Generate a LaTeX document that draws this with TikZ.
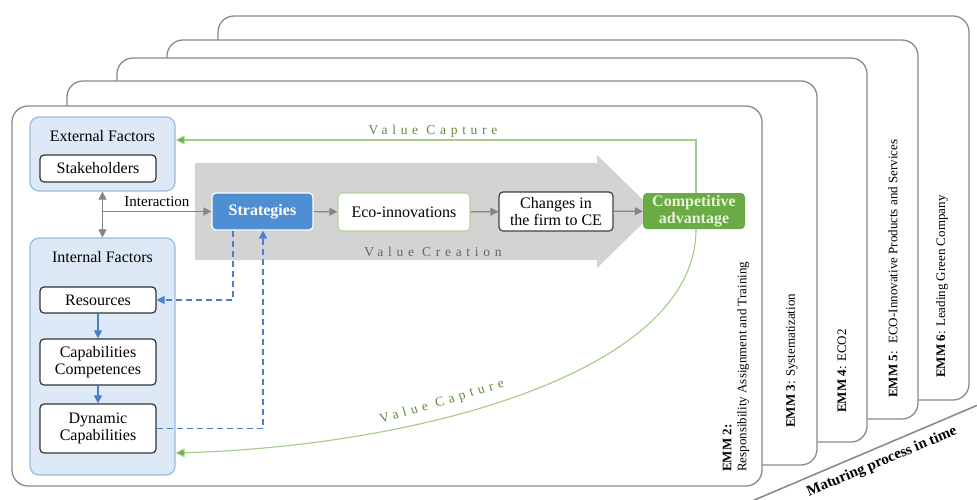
\documentclass[tikz,border=0pt]{standalone}
\usepackage{fontspec}
\setmainfont{Liberation Serif}
\usetikzlibrary{arrows.meta,calc}

\definecolor{panelline}{HTML}{8A8A8A}
\definecolor{factorfill}{HTML}{DDE9F6}
\definecolor{factorline}{HTML}{98BCE2}
\definecolor{stratfill}{HTML}{4E8ED3}
\definecolor{compfill}{HTML}{6AAB45}
\definecolor{comptext}{HTML}{E6F3DA}
\definecolor{ecoline}{HTML}{B2D49A}
\definecolor{bandgray}{HTML}{D3D3D3}
\definecolor{flowgray}{HTML}{858585}
\definecolor{dashblue}{HTML}{4A7ECF}
\definecolor{capline}{HTML}{A3CC86}
\definecolor{captip}{HTML}{6AAB45}
\definecolor{captext}{HTML}{5E8A3C}

\tikzset{
  panel/.style={draw=panelline, fill=white, line width=1.3pt, rounded corners=16pt},
  factor/.style={draw=factorline, fill=factorfill, line width=1.2pt, rounded corners=9pt},
  inbox/.style={draw=black!80, fill=white, line width=1.2pt, rounded corners=4pt,
    align=center, font=\fontsize{16}{17}\selectfont, inner sep=1pt},
  flowbox/.style={rounded corners=4pt, align=center, inner sep=1pt,
    font=\fontsize{16}{17}\selectfont},
  flowarrow/.style={draw=flowgray, line width=1.1pt, -{Triangle[length=8pt,width=8pt]}},
  dasharrow/.style={draw=dashblue, line width=1.3pt, dash pattern=on 6pt off 4pt,
    -{Triangle[length=8pt,width=8pt]}},
  blueflow/.style={draw=dashblue, line width=1.1pt, -{Triangle[length=8pt,width=8pt]}},
  capture/.style={draw=capline, line width=1.1pt, -{Triangle[length=9pt,width=9pt,fill=captip]}},
  emmlabel/.style={rotate=90, anchor=west, align=left, inner sep=0pt,
    font=\fontsize{13}{15}\selectfont},
  spaced/.style={font=\fontsize{13.5}{15}\selectfont\addfontfeatures{LetterSpace=35}}
}

\begin{document}
\begin{tikzpicture}[x=1pt, y=-1pt]
\useasboundingbox (0,0) rectangle (977,499);

% stacked maturity levels, back to front
\draw[panel] (218,16) rectangle (969,400);
\draw[panel] (167,40) rectangle (918,419);
\draw[panel] (117,58) rectangle (867,442);
\draw[panel] (67,81) rectangle (817,465);
\draw[panel] (12,106) rectangle (762,486);

% time axis
\draw[draw=panelline, line width=1.6pt] (752,501) -- (985,402);
\node[rotate=22.7, font=\bfseries\fontsize{15}{17}\selectfont] (axis) at (882,462) {Maturing process in time};

% level labels
\node[emmlabel] (emm2) at (736,472) {\textbf{EMM 2:}\\Responsibility Assignment and Training};
\node[emmlabel] (emm3) at (792,428) {\textbf{EMM 3}: Systematization};
\node[emmlabel] (emm4) at (842,413) {\textbf{EMM 4}: ECO2};
\node[emmlabel] (emm5) at (893,398) {\textbf{EMM 5}:~ ECO-Innovative Products and Services};
\node[emmlabel] (emm6) at (942,378) {\textbf{EMM 6}: Leading Green Company};

% value creation band
\fill[bandgray] (195,163) -- (597,163) -- (597,155) -- (655,211.5) -- (597,268)
  -- (597,260) -- (195,260) -- cycle;
\node[spaced, text=black!60] (vcreate) at (433,252) {Value Creation};

% factor groups
\node[factor, minimum width=145pt, minimum height=74pt] (ext) at (102.5,154) {};
\node[font=\fontsize{16}{17}\selectfont] (extt) at (102.5,136) {External Factors};
\node[inbox, minimum width=116pt, minimum height=27pt] (stake) at (98,168.5) {Stakeholders};

\node[factor, minimum width=145pt, minimum height=237pt] (int) at (102.5,356.5) {};
\node[font=\fontsize{16}{17}\selectfont] (intt) at (102.5,257) {Internal Factors};
\node[inbox, minimum width=116pt, minimum height=26pt] (res) at (98,300) {Resources};
\node[inbox, minimum width=116pt, minimum height=46pt] (cap) at (98,362) {Capabilities\\Competences};
\node[inbox, minimum width=116pt, minimum height=49pt] (dyn) at (98,428.5) {Dynamic\\Capabilities};

% value chain
\node[flowbox, draw=white, line width=1.2pt, fill=stratfill, text=white, font=\bfseries\fontsize{16}{17}\selectfont,
  minimum width=101pt, minimum height=37pt] (strat) at (262.5,211.5) {Strategies};
\node[flowbox, draw=ecoline, line width=1.1pt, fill=white,
  minimum width=132pt, minimum height=38pt] (eco) at (404,212) {Eco-innovations};
\node[flowbox, draw=black!75, line width=1.2pt, fill=white,
  minimum width=114pt, minimum height=39pt] (chg) at (556,211.5) {Changes in\\the firm to CE};
\node[flowbox, fill=compfill, text=comptext, font=\bfseries\fontsize{16}{17}\selectfont,
  minimum width=102pt, minimum height=36pt] (comp) at (694,211) {Competitive\\advantage};

% interaction between the factor groups and strategies
\draw[flowgray, line width=1.1pt, {Triangle[length=8pt,width=8pt]}-{Triangle[length=8pt,width=8pt]}]
  (ext.south) -- (int.north);
\draw[flowarrow] (ext.south |- strat.west) -- (strat.west)
  node[midway, above, text=black, font=\fontsize{15}{16}\selectfont, yshift=1pt] (inter) {Interaction};

\draw[flowarrow] (strat) -- (eco);
\draw[flowarrow] (eco) -- (chg);
\draw[flowarrow] (chg) -- (comp);

% internal development path
\draw[blueflow] (res) -- (cap);
\draw[blueflow] (cap) -- (dyn);
\draw[dasharrow] ([xshift=-29.5pt]strat.south) |- (res.east);
\draw[dasharrow] (dyn.east) -| ([xshift=0.5pt]strat.south);

% value capture loops
\draw[capture] ([xshift=2pt]comp.north) |- ([yshift=14pt]ext.east);
\node[spaced, text=captext] (vcap1) at (433,131) {Value Capture};
\draw[capture] ([xshift=2pt]comp.south) .. controls (696,372) and (420,446) .. ([yshift=-96.5pt]int.east);
\node[spaced, text=captext, rotate=16.5] (vcap2) at (442,402) {Value Capture};
\end{tikzpicture}
\end{document}
